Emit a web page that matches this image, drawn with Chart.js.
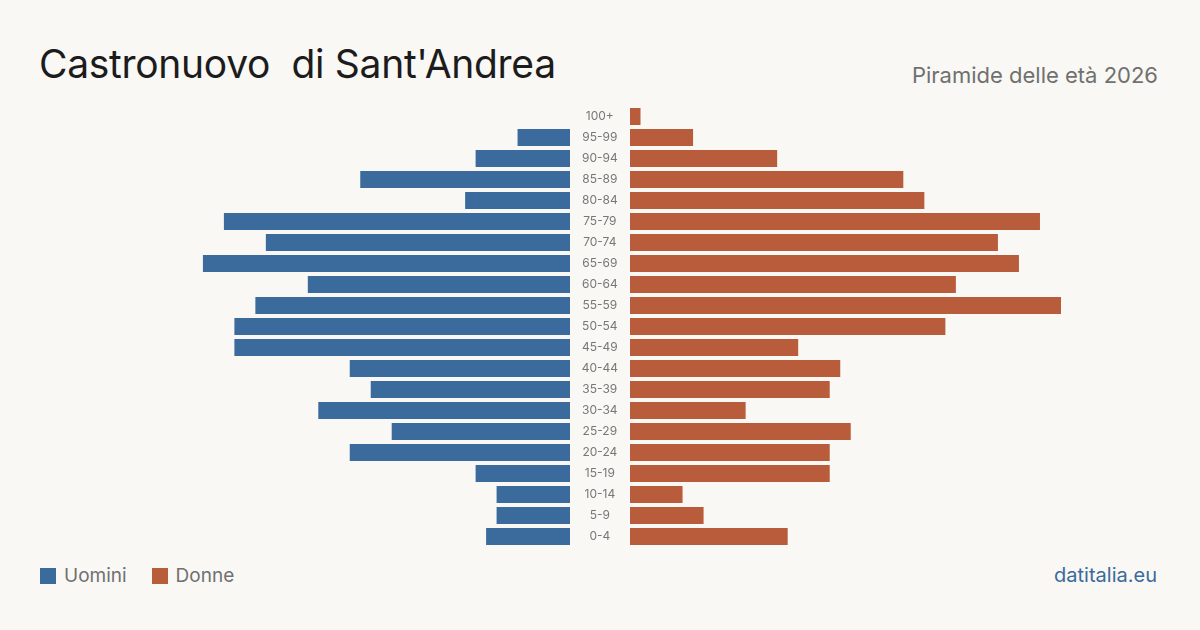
<!DOCTYPE html>
<html lang="it">
<head>
<meta charset="utf-8">
<script src="https://cdn.jsdelivr.net/npm/chart.js@4/dist/chart.umd.min.js"></script>
<style>
  html, body { margin: 0; padding: 0; }
  body { width: 1200px; height: 630px; background: #f9f8f4; position: relative; overflow: hidden; font-family: Inter, "Noto Sans", sans-serif; }
  #title { position: absolute; left: 39px; top: 40px; font-size: 39px; color: #1c1c1c; letter-spacing: -0.3px; }
  #subtitle { position: absolute; right: 42px; top: 62px; font-size: 22px; color: #707070; }
  #leftWrap { position: absolute; left: 140px; top: 106px; width: 430px; height: 441px; }
  #rightWrap { position: absolute; left: 570px; top: 106px; width: 491px; height: 441px; }
  #legend { position: absolute; left: 40px; top: 564px; font-size: 19px; color: #707070; display: flex; align-items: center; }
  #legend .sw { width: 16px; height: 16px; display: inline-block; margin-right: 8px; }
  #legend .item { display: flex; align-items: center; margin-right: 25px; }
  #source { position: absolute; right: 43px; top: 563px; font-size: 20px; color: #3a6b9c; }
</style>
</head>
<body>
<div id="title">Castronuovo&nbsp; di Sant'Andrea</div>
<div id="subtitle">Piramide delle età 2026</div>
<div id="leftWrap"><canvas id="menChart"></canvas></div>
<div id="rightWrap"><canvas id="womenChart"></canvas></div>
<div id="legend">
  <span class="item"><span class="sw" style="background:#3a6b9c"></span>Uomini</span>
  <span class="item"><span class="sw" style="background:#b95c3c"></span>Donne</span>
</div>
<div id="source">datitalia.eu</div>

<script>
// Data
const ageGroups = ['100+', '95-99', '90-94', '85-89', '80-84', '75-79', '70-74', '65-69', '60-64', '55-59',
    '50-54', '45-49', '40-44', '35-39', '30-34', '25-29', '20-24', '15-19', '10-14', '5-9', '0-4'];
const men = [0, 5, 9, 20, 10, 33, 29, 35, 25, 30, 32, 32, 21, 19, 24, 17, 21, 9, 7, 7, 8];
const women = [1, 6, 14, 26, 28, 39, 35, 37, 31, 41, 30, 16, 20, 19, 11, 21, 19, 19, 5, 7, 15];

const MEN_COLOR = '#3a6b9c';
const WOMEN_COLOR = '#b95c3c';
const axisMax = Math.max(...men, ...women);

const baseOptions = {
    indexAxis: 'y',
    responsive: true,
    maintainAspectRatio: false,
    animation: false,
    layout: { padding: 0 },
    plugins: { legend: { display: false }, tooltip: { enabled: false } }
};

// Men (left side, reversed)
new Chart(document.getElementById('menChart'), {
    type: 'bar',
    data: {
        labels: ageGroups,
        datasets: [{
            data: men,
            backgroundColor: MEN_COLOR,
            categoryPercentage: 1,
            barPercentage: 17 / 21
        }]
    },
    options: {
        ...baseOptions,
        scales: {
            x: { reverse: true, min: 0, max: axisMax, display: false },
            y: { display: false }
        }
    }
});

// Women (right side, age labels in the middle)
new Chart(document.getElementById('womenChart'), {
    type: 'bar',
    data: {
        labels: ageGroups,
        datasets: [{
            data: women,
            backgroundColor: WOMEN_COLOR,
            categoryPercentage: 1,
            barPercentage: 17 / 21
        }]
    },
    options: {
        ...baseOptions,
        scales: {
            x: { min: 0, max: axisMax, display: false },
            y: {
                grid: { display: false, drawTicks: false },
                border: { display: false },
                afterFit: axis => {
                    axis.width = 60;
                    axis.paddingTop = 0;
                    axis.paddingBottom = 0;
                },
                ticks: {
                    color: '#777777',
                    font: { family: 'Inter', size: 12 },
                    crossAlign: 'center',
                    padding: 12
                }
            }
        }
    }
});
</script>
</body>
</html>
